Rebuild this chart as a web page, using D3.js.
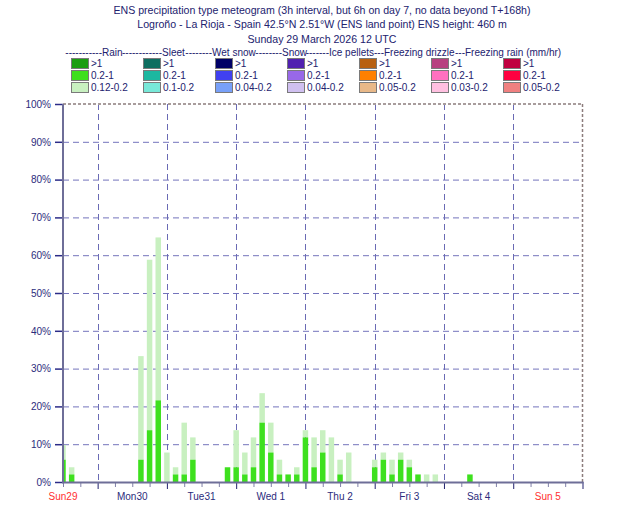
<!DOCTYPE html>
<html><head><meta charset="utf-8">
<script src="https://cdn.jsdelivr.net/npm/d3@7"></script>
<style>
body{margin:0;background:#fff;}
svg{display:block;font-family:"Liberation Sans",Arial,Helvetica,sans-serif;}
</style></head><body>
<svg id="c" width="630" height="525"></svg>
<script>
// ---- data ----
const titleLines = [
  "ENS precipitation type meteogram (3h interval, but 6h on day 7, no data beyond T+168h)",
  "Logroño - La Rioja - Spain 42.5°N 2.51°W (ENS land point) ENS height: 460 m",
  "Sunday 29 March 2026 12 UTC"
];
const legendTypes = ["Rain","Sleet","Wet snow","Snow","Ice pellets","Freezing drizzle","Freezing rain (mm/hr)"];
const legendLabels = [
  [">1","0.2-1","0.12-0.2"],
  [">1","0.2-1","0.1-0.2"],
  [">1","0.2-1","0.04-0.2"],
  [">1","0.2-1","0.04-0.2"],
  [">1","0.2-1","0.05-0.2"],
  [">1","0.2-1","0.03-0.2"],
  [">1","0.2-1","0.05-0.2"]
];
const legendColors = [
  ["#1a9e10","#3ee01e","#c8f0c0"],
  ["#0e6e60","#1cb8a0","#78e8d8"],
  ["#000066","#4040f0","#78a0f8"],
  ["#5020b0","#9868e8","#d0c0f0"],
  ["#b86010","#ff8000","#e8b888"],
  ["#b84080","#ff70c0","#ffc0e0"],
  ["#c00040","#ff0040","#f08080"]
];
// forecast step (hours after base time) and % of members
const steps      = [0,3,27,30,33,36,39,42,45,57,60,63,66,69,72,75,78,81,84,87,90,93,96,99,108,111,114,117,120,123,126,129,141];
const rainMid    = [5.9,2.0,5.9,13.7,21.6,0,2.0,2.0,5.9,3.9,3.9,2.0,3.9,15.7,7.8,2.0,2.0,2.0,11.8,3.9,7.8,0,2.0,0,3.9,5.9,2.0,5.9,3.9,2.0,0,0,2.0];
const rainLight  = [3.9,1.9,27.4,45.1,43.1,7.8,1.9,13.7,5.9,0,9.8,5.8,7.9,7.8,7.9,3.9,0,1.9,1.9,7.9,5.9,11.8,3.9,7.8,2.0,1.9,3.9,1.9,2.0,0,2.0,2.0,0];
const dayTicks   = [0,12,36,60,84,108,132,156,180];
const dayLabels  = ["Sun29","Mon30","Tue31","Wed 1","Thu 2","Fri 3","Sat 4","Sun 5"];
const dayLabelHours = [0,24,48,72,96,120,144,168];
const yTicks = [0,10,20,30,40,50,60,70,80,90,100];

// ---- layout ----
const svg = d3.select("#c");
const L = 63, R = 582.5, T = 104, B = 482;
const x = d3.scaleLinear().domain([0,180]).range([L,R]);
const y = d3.scaleLinear().domain([0,100]).range([B,T]);
const navy = "#2c2c7c";
const tcol = "#22226e";

// titles
svg.selectAll("text.title").data(titleLines).enter().append("text")
  .attr("class","title").attr("x",322).attr("y",(d,i)=>13.5+i*14.5)
  .attr("text-anchor","middle").attr("font-size",10.6).attr("fill",tcol).text(d=>d);

// legend header: one text line, words at fixed positions, dash runs filling the gaps
const wordX = [102,162,212,282,329,384,465];
const hdr = svg.append("text").attr("y",56).attr("font-size",10).attr("fill",tcol);
const probe = svg.append("text").attr("font-size",10);
const measure = s => { probe.text(s); return probe.node().getComputedTextLength(); };
const dashW = measure("----------")/10;
let prevEnd = 66;
legendTypes.forEach((w,i)=>{
  const n = Math.max(1, Math.round((wordX[i]-prevEnd)/dashW));
  hdr.append("tspan").attr("x",wordX[i]-n*dashW).text("-".repeat(n));
  hdr.append("tspan").attr("x",wordX[i]).text(w);
  prevEnd = wordX[i] + measure(w);
});
probe.remove();

// legend boxes
const lg = svg.append("g");
legendColors.forEach((cols,ci)=>{
  cols.forEach((c,ri)=>{
    const bx = 71 + ci*72, by = 58 + ri*12;
    lg.append("rect").attr("x",bx+0.5).attr("y",by+0.5).attr("width",17).attr("height",10)
      .attr("fill",c).attr("stroke","#7a7a7a").attr("stroke-width",1);
    lg.append("text").attr("x",bx+20).attr("y",by+9).attr("font-size",10)
      .attr("fill",tcol).text(legendLabels[ci][ri]);
  });
});

// horizontal grid
svg.append("g").selectAll("line").data(yTicks.filter(v=>v>0&&v<100)).enter().append("line")
  .attr("x1",L).attr("x2",R).attr("y1",d=>y(d)+0.5).attr("y2",d=>y(d)+0.5)
  .attr("stroke","#7474bc").attr("stroke-width",1).attr("stroke-dasharray","6,4");
// vertical grid (00 UTC)
const midnights = dayTicks.filter(h=>h>0&&h<180);
svg.append("g").selectAll("line").data(midnights).enter().append("line")
  .attr("x1",d=>Math.round(x(d))+0.5).attr("x2",d=>Math.round(x(d))+0.5).attr("y1",T).attr("y2",B)
  .attr("stroke","#6a6ab4").attr("stroke-width",1).attr("stroke-dasharray","6,4");
// top and right border
svg.append("line").attr("x1",L).attr("x2",R).attr("y1",T).attr("y2",T)
  .attr("stroke","#a89c9c").attr("stroke-width",2).attr("stroke-dasharray","3,2");
svg.append("line").attr("x1",R).attr("x2",R).attr("y1",T).attr("y2",B)
  .attr("stroke","#8c7c7c").attr("stroke-width",1.5).attr("stroke-dasharray","3,2");

// bars
svg.append("clipPath").attr("id","clip").append("rect").attr("x",L).attr("y",T).attr("width",R-L).attr("height",B-T);
const bw = x(1.9)-x(0);
const bars = svg.append("g").attr("clip-path","url(#clip)");
const rows = steps.map((s,i)=>({s, mid:rainMid[i], light:rainLight[i]}));
bars.selectAll("rect.l").data(rows).enter().append("rect").attr("class","l")
  .attr("x",d=>x(d.s)-bw/2).attr("width",bw)
  .attr("y",d=>y(d.mid+d.light)).attr("height",d=>y(d.mid)-y(d.mid+d.light))
  .attr("fill","#c8f0c0");
bars.selectAll("rect.m").data(rows).enter().append("rect").attr("class","m")
  .attr("x",d=>x(d.s)-bw/2).attr("width",bw)
  .attr("y",d=>y(d.mid)).attr("height",d=>y(0)-y(d.mid))
  .attr("fill","#3ee01e");

// y axis
const yAxis = d3.axisLeft(y).tickValues(yTicks).tickFormat(d=>d+"%").tickSize(8).tickPadding(4);
const ya = svg.append("g").attr("transform",`translate(${L},0)`).call(yAxis);
ya.select(".domain").remove();
ya.selectAll("line").attr("stroke","#2c2c88").attr("stroke-width",1.5);
ya.selectAll("text").attr("font-size",10).attr("fill",navy).attr("font-family","Liberation Sans, Arial, sans-serif");
svg.append("line").attr("x1",L).attr("x2",L).attr("y1",T).attr("y2",B+1)
  .attr("stroke","#6e6e98").attr("stroke-width",2);

// x axis
const xAxis = d3.axisBottom(x).tickValues(d3.range(0,181,6)).tickFormat("").tickSize(4);
const xa = svg.append("g").attr("transform",`translate(0,${B})`).call(xAxis);
xa.select(".domain").remove();
xa.selectAll("line").attr("stroke-width",1)
  .attr("y2",d=>dayTicks.includes(d)&&d>0 ? 7 : 5)
  .attr("stroke",d=>dayTicks.includes(d)&&d>0 ? "#22226e" : "#8080a8");
svg.append("line").attr("x1",L-1).attr("x2",R+1).attr("y1",B+0.5).attr("y2",B+0.5)
  .attr("stroke","#6e6e98").attr("stroke-width",2);
svg.append("g").selectAll("text").data(dayLabels).enter().append("text")
  .attr("x",(d,i)=>x(dayLabelHours[i])).attr("y",500).attr("text-anchor","middle")
  .attr("font-size",10).attr("fill",d=>d.startsWith("Sun")?"#ff3030":navy).text(d=>d);
</script>
</body></html>
